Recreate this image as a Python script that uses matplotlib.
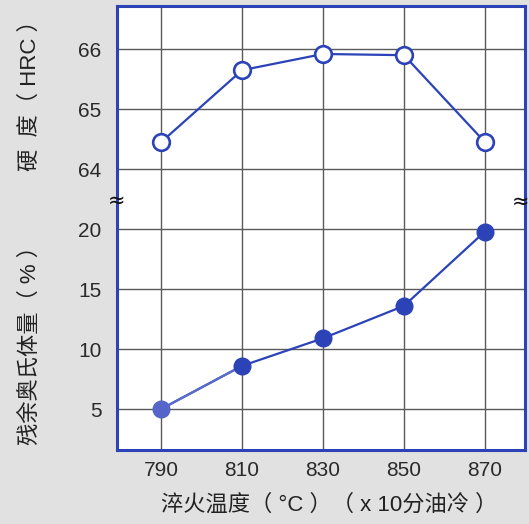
import matplotlib.pyplot as plt
import numpy as np

plt.rcParams['font.family'] = ['Liberation Sans', 'Noto Sans CJK SC', 'DejaVu Sans']

temps = [790, 810, 830, 850, 870]
hardness = [64.45, 65.65, 65.92, 65.9, 64.45]
retained = [5, 8.6, 10.9, 13.6, 19.8]

lower_ticks = [5, 10, 15, 20]
upper_ticks = [64, 65, 66]

blue = '#2c43b8'
grid_c = '#5a5a5a'


# 下半部分: 百分比/5, 上半部分: 5 + (HRC-64)
def low_pos(v):
    return np.asarray(v) / 5.0


def up_pos(v):
    return 5.0 + (np.asarray(v) - 64.0)


fig = plt.figure(figsize=(5.29, 5.24), dpi=100, facecolor='#e1e1e1')
ax = fig.add_axes([117 / 529, 1 - 450 / 524, 408 / 529, 444 / 524])
ax.set_facecolor('white')

ax.set_xlim(779.1, 879.9)
ax.set_ylim(0.317, 7.72)

ticks_pos = list(low_pos(lower_ticks)) + list(up_pos(upper_ticks))
ticks_lab = [str(t) for t in lower_ticks] + [str(t) for t in upper_ticks]
ax.set_yticks(ticks_pos)
ax.set_yticklabels(ticks_lab)
ax.set_xticks(temps)
ax.set_xticklabels([str(t) for t in temps])
ax.tick_params(length=0, labelsize=15, colors='#2a2a2a', pad=8)
ax.tick_params(axis='y', pad=11)
ax.grid(True, color=grid_c, linewidth=1.0)
ax.set_axisbelow(True)

for s in ax.spines.values():
    s.set_color(blue)
    s.set_linewidth(2.2)

# 残余奥氏体量
ax.plot(temps, low_pos(retained), color=blue, linewidth=1.6, zorder=3)
ax.plot(temps[:2], low_pos(retained[:2]), color='#5a6cc9', linewidth=1.6, zorder=3)
ax.plot(temps[1:], low_pos(retained[1:]), 'o', color=blue, markersize=12, zorder=4)
ax.plot(temps[0], low_pos(retained[0]), 'o', color='#5566c8', markersize=12, zorder=4)

# 硬度
ax.plot(temps, up_pos(hardness), '-o', color=blue, linewidth=1.6,
        markersize=12, markerfacecolor='white', markeredgewidth=1.9, zorder=4)

# 断轴符号
ax.text(0.0, 4.48, '≈', transform=ax.get_yaxis_transform(), ha='center',
        va='center', fontsize=15, color='#111111', clip_on=False, zorder=6,
        family='DejaVu Sans')
ax.text(0.99, 4.45, '≈', transform=ax.get_yaxis_transform(), ha='center',
        va='center', fontsize=15, color='#111111', clip_on=False, zorder=6,
        family='DejaVu Sans')

fig.text(30 / 529, 1 - 90 / 524, '硬  度（ HRC ）', rotation=90, ha='center',
         va='center', fontsize=16, color='#222222')
fig.text(30 / 529, 1 - 340 / 524, '残余奥氏体量（ % ）', rotation=90, ha='center',
         va='center', fontsize=16, color='#222222')
fig.text(329 / 529, 1 - 505 / 524, '淬火温度（ °C ）（ x 10分油冷 ）', ha='center',
         va='center', fontsize=16, color='#222222')

fig.savefig('out.png', dpi=100, facecolor=fig.get_facecolor())
